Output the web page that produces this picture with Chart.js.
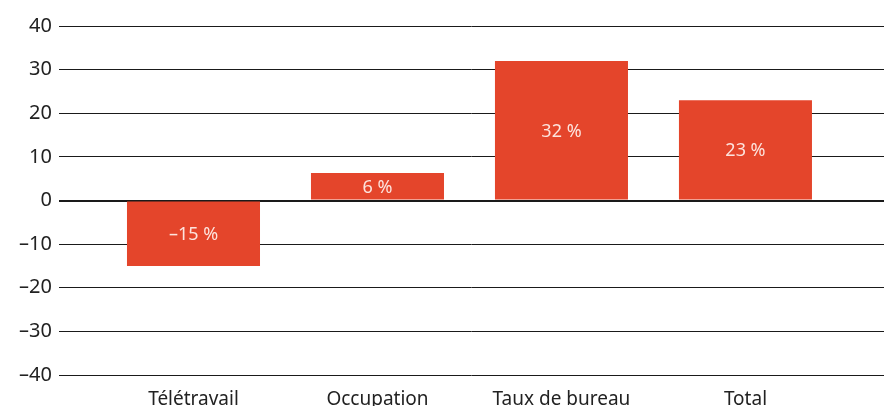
<!DOCTYPE html>
<html>
<head>
<meta charset="utf-8">
<script src="https://cdn.jsdelivr.net/npm/chart.js@4/dist/chart.umd.min.js"></script>
<style>
  html, body { margin: 0; padding: 0; background: #fff; overflow: hidden; }
  #wrap { width: 884px; height: 420px; position: relative; }
</style>
</head>
<body>
<div id="wrap"><canvas id="c"></canvas></div>
<script>
const categories = ["Télétravail", "Occupation", "Taux de bureau", "Total"];
const values = [-15, 6.3, 32, 23];
const barLabels = ["–15 %", "6 %", "32 %", "23 %"];
const yTicks = [-40, -30, -20, -10, 0, 10, 20, 30, 40];

const FONT = "'Noto Sans', 'Open Sans', sans-serif";

const barLabelPlugin = {
  id: 'barLabels',
  afterDatasetsDraw(chart) {
    const ctx = chart.ctx;
    const meta = chart.getDatasetMeta(0);
    ctx.save();
    ctx.font = "18px " + FONT;
    ctx.fillStyle = "#fde3dd";
    ctx.textAlign = "center";
    ctx.textBaseline = "middle";
    meta.data.forEach((el, i) => {
      ctx.fillText(barLabels[i], el.x, (el.y + el.base) / 2 + 1.5);
    });
    ctx.restore();
  }
};

new Chart(document.getElementById('c'), {
  type: 'bar',
  data: {
    datasets: [{
      data: categories.map((c, i) => ({ x: i, y: values[i] })),
      backgroundColor: '#e4452b',
      borderWidth: 0,
      barPercentage: 0.723,
      categoryPercentage: 1
    }]
  },
  plugins: [barLabelPlugin],
  options: {
    responsive: true,
    maintainAspectRatio: false,
    animation: false,
    layout: { padding: { top: 26, right: 0, left: 0, bottom: 0 } },
    plugins: { legend: { display: false }, tooltip: { enabled: false } },
    scales: {
      x: {
        type: 'linear',
        min: -0.731,
        max: 3.753,
        offset: false,
        bounds: 'data',
        grid: { display: false, drawTicks: false, offset: false },
        border: { display: false },
        afterBuildTicks(scale) { scale.ticks = categories.map((c, i) => ({ value: i })); },
        afterFit(scale) { scale.height = 45; },
        ticks: {
          padding: 13,
          autoSkip: false,
          maxRotation: 0,
          color: '#222',
          font: { family: FONT, size: 19 },
          callback: (v) => categories[v]
        }
      },
      y: {
        min: -40,
        max: 40,
        afterBuildTicks(scale) { scale.ticks = yTicks.map(v => ({ value: v })); },
        afterFit(scale) { scale.width = 59; },
        grid: {
          drawTicks: false,
          color: '#1a1a1a',
          lineWidth: (ctx) => (ctx.tick && ctx.tick.value === 0 ? 2 : 1)
        },
        border: { display: false },
        ticks: {
          padding: 7,
          color: '#222',
          font: { family: FONT, size: 20 },
          callback: (v) => String(v).replace('-', '–')
        }
      }
    }
  }
});
</script>
</body>
</html>
